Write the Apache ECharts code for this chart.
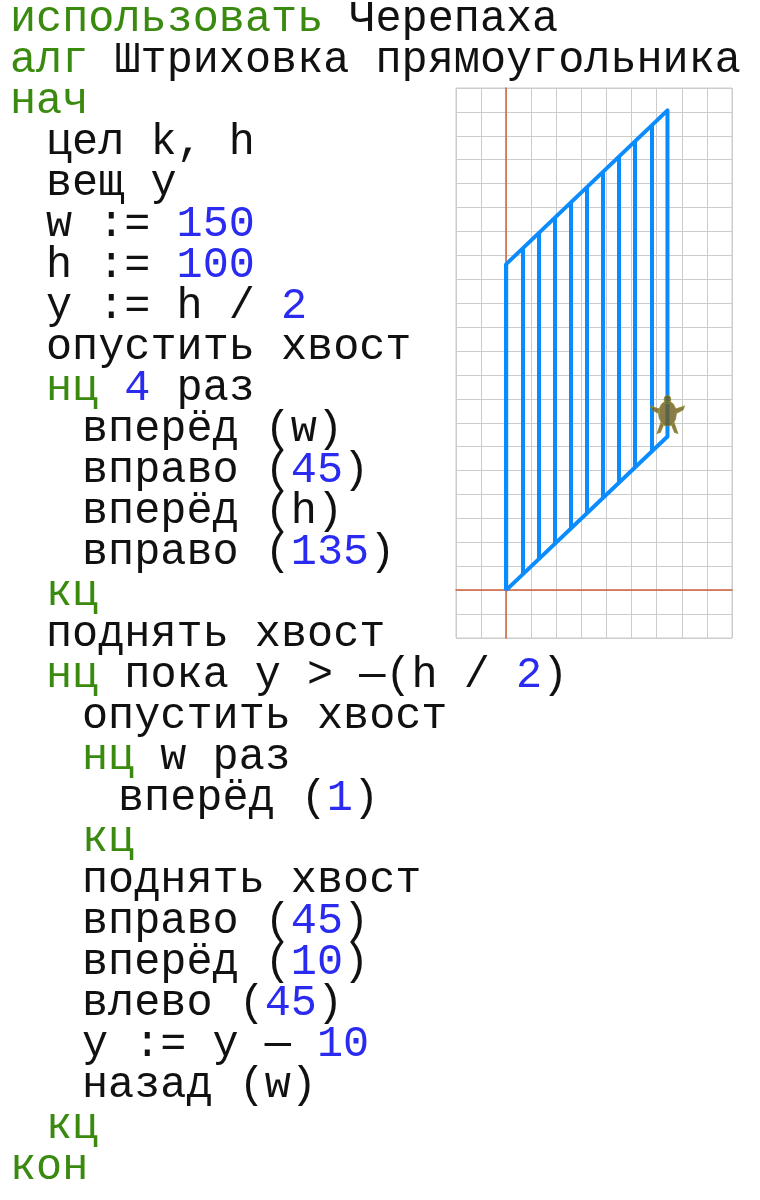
<!DOCTYPE html>
<html>
<head>
<meta charset="UTF-8">
<title></title>
<style>html,body{margin:0;padding:0;background:#fff;}</style>
</head>
<body>
<div id="main" style="width:760px;height:1200px;"></div>
<script src="https://cdn.jsdelivr.net/npm/echarts@6/dist/echarts.min.js"></script>
<script>
// code listing: [indent, [text, kind]...]  kind: k = keyword, n = number, t = plain
var codeLines = [
  [0, [['использовать', 'k'], [' Черепаха', 't']]],
  [0, [['алг', 'k'], [' Штриховка прямоугольника', 't']]],
  [0, [['нач', 'k']]],
  [1, [['цел k, h', 't']]],
  [1, [['вещ y', 't']]],
  [1, [['w := ', 't'], ['150', 'n']]],
  [1, [['h := ', 't'], ['100', 'n']]],
  [1, [['y := h / ', 't'], ['2', 'n']]],
  [1, [['опустить хвост', 't']]],
  [1, [['нц', 'k'], [' ', 't'], ['4', 'n'], [' раз', 't']]],
  [2, [['вперёд (w)', 't']]],
  [2, [['вправо (', 't'], ['45', 'n'], [')', 't']]],
  [2, [['вперёд (h)', 't']]],
  [2, [['вправо (', 't'], ['135', 'n'], [')', 't']]],
  [1, [['кц', 'k']]],
  [1, [['поднять хвост', 't']]],
  [1, [['нц', 'k'], [' пока y > —(h / ', 't'], ['2', 'n'], [')', 't']]],
  [2, [['опустить хвост', 't']]],
  [2, [['нц', 'k'], [' w раз', 't']]],
  [3, [['вперёд (', 't'], ['1', 'n'], [')', 't']]],
  [2, [['кц', 'k']]],
  [2, [['поднять хвост', 't']]],
  [2, [['вправо (', 't'], ['45', 'n'], [')', 't']]],
  [2, [['вперёд (', 't'], ['10', 'n'], [')', 't']]],
  [2, [['влево (', 't'], ['45', 'n'], [')', 't']]],
  [2, [['y := y — ', 't'], ['10', 'n']]],
  [2, [['назад (w)', 't']]],
  [1, [['кц', 'k']]],
  [0, [['кон', 'k']]]
];

// program parameters
var w = 150, h = 100, stepLen = 10, turnDeg = 45;
var yStart = h / 2, yStop = -h / 2, yStep = 10;

// turtle path: rectangle skewed by 45 deg turns
var d = h * Math.cos(turnDeg * Math.PI / 180);
var outline = [[0, 0], [0, w], [d, w + d], [d, d], [0, 0]];
var hatch = [];
var s = stepLen * Math.cos(turnDeg * Math.PI / 180);
var k = 0;
for (var y = yStart; y > yStop; y -= yStep) {
  hatch.push({ coords: [[k * s, k * s], [k * s, k * s + w]] });
  k++;
}
var turtlePos = [k * s, k * s];

var colors = { k: '#3a8a10', n: '#2a2af0', t: '#111111' };
var graphics = codeLines.map(function (ln, i) {
  var str = ln[1].map(function (seg) {
    return '{' + seg[1] + '|' + seg[0].replace(/[{}|]/g, '') + '}';
  }).join('');
  return {
    type: 'text', left: 10 + ln[0] * 36, top: -3 + i * 41,
    style: {
      text: str,
      rich: {
        k: { fill: colors.k, fontFamily: 'Liberation Mono', fontSize: 43.5, lineHeight: 44 },
        n: { fill: colors.n, fontFamily: 'Liberation Mono', fontSize: 43.5, lineHeight: 44 },
        t: { fill: colors.t, fontFamily: 'Liberation Mono', fontSize: 43.5, lineHeight: 44 }
      }
    }
  };
});

var turtleSym = 'path://M50,2 A9,10 0 1,1 49.9,2 Z M50,16 A24,30 0 1,1 49.9,16 Z M28,35 L4,28 L8,37 L28,46 Z M72,35 L96,28 L92,37 L72,46 Z M32,68 L22,94 L31,91 L39,74 Z M68,68 L78,94 L69,91 L61,74 Z';

var chart = echarts.init(document.getElementById('main'));
chart.setOption({
  animation: false,
  grid: { left: 456, top: 88, width: 276, height: 550, show: true, borderColor: '#cccccc', borderWidth: 1 },
  xAxis: {
    type: 'value', min: -22, max: 99, interval: 11,
    axisLabel: { show: false }, axisTick: { show: false },
    axisLine: { show: true, onZero: true, lineStyle: { color: '#d0603a', width: 1.5 } },
    splitLine: { show: true, lineStyle: { color: '#cccccc', width: 1 } }
  },
  yAxis: {
    type: 'value', min: -22, max: 231, interval: 11,
    axisLabel: { show: false }, axisTick: { show: false },
    axisLine: { show: true, onZero: true, lineStyle: { color: '#d0603a', width: 1.5 } },
    splitLine: { show: true, lineStyle: { color: '#cccccc', width: 1 } }
  },
  graphic: graphics,
  series: [
    {
      type: 'line', data: outline, symbol: 'none',
      lineStyle: { color: '#0a8cff', width: 4, join: 'round' }
    },
    {
      type: 'lines', coordinateSystem: 'cartesian2d', data: hatch,
      lineStyle: { color: '#0a8cff', width: 4, opacity: 1 }
    },
    {
      type: 'scatter', data: [turtlePos], symbol: turtleSym, symbolSize: [34, 38],
      symbolOffset: [0, -22], itemStyle: { color: '#6e5a1c', borderColor: '#8a8a2a', borderWidth: 1 }, z: 5
    }
  ]
});
</script>
</body>
</html>
